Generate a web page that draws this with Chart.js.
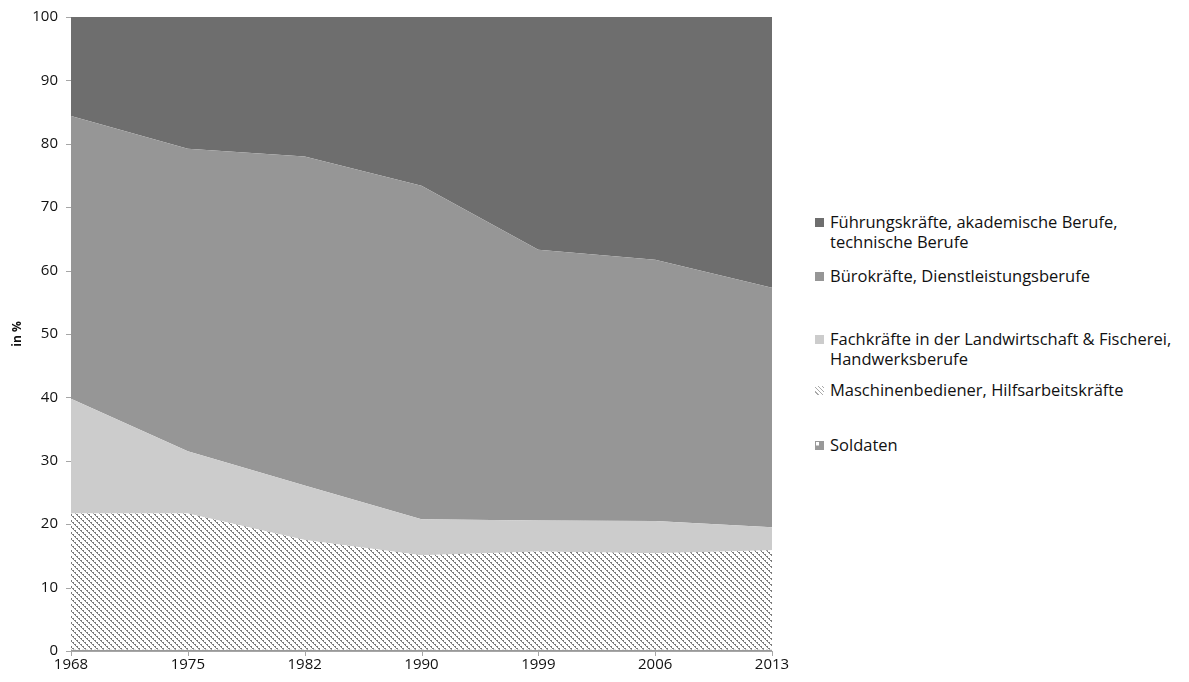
<!DOCTYPE html>
<html lang="de">
<head>
<meta charset="UTF-8">
<title>Berufsgruppen</title>
<script src="https://cdn.jsdelivr.net/npm/chart.js"></script>
<style>
    body { margin: 0; background: #fff; font-family: "Open Sans", sans-serif; }
    #wrap { position: relative; width: 1189px; height: 682px; }
    #chartBox { position: absolute; left: 0; top: 0; width: 800px; height: 682px; }
    #legend { position: absolute; left: 815px; top: 0; width: 374px; font-size: 16.5px; color: #111; }
    .item { position: absolute; left: 0; display: flex; align-items: flex-start; line-height: 20px; white-space: nowrap; }
    .box { width: 9px; height: 9px; margin: 6px 6px 0 0; flex: none; }
</style>
</head>
<body>
<div id="wrap">
    <div id="chartBox"><canvas id="chart"></canvas></div>
    <div id="legend"></div>
</div>
<script>
const years = ["1968", "1975", "1982", "1990", "1999", "2006", "2013"];

// Anteile in %, von unten nach oben gestapelt
const soldaten     = [0.2, 0.2, 0.2, 0.2, 0.2, 0.2, 0.2];
const maschinen    = [21.5, 21.5, 17.3, 14.9, 15.5, 15.2, 15.7];
const fachkraefte  = [18.1, 9.8, 8.6, 5.7, 4.9, 5.1, 3.6];
const buerokraefte = [44.6, 47.7, 51.9, 52.6, 42.7, 41.2, 37.8];
const fuehrung     = [15.6, 20.8, 22.0, 26.6, 36.7, 38.3, 42.7];

const yTicks = [0, 10, 20, 30, 40, 50, 60, 70, 80, 90, 100];

// schraffur für maschinenbediener
function hatch() {
    const c = document.createElement("canvas");
    c.width = 6; c.height = 6;
    const g = c.getContext("2d");
    g.fillStyle = "#fff";
    g.fillRect(0, 0, 6, 6);
    g.fillStyle = "#7d7d7d";
    for (let y = 0; y < 6; y++) {
        g.fillRect(y, y, 1, 1);
        if (y % 2 == 0) g.fillRect((y + 1) % 6, y, 1, 1);
    }
    return g.createPattern(c, "repeat");
}

function soldPattern() {
    const c = document.createElement("canvas");
    c.width = 4; c.height = 4;
    const g = c.getContext("2d");
    g.fillStyle = "#999";
    g.fillRect(0, 0, 4, 4);
    g.fillStyle = "#fff";
    g.fillRect(0, 0, 2, 2);
    return g.createPattern(c, "repeat");
}

const hatchFill = hatch();

const datasets = [
    { label: "Soldaten", data: soldaten, backgroundColor: soldPattern(), fill: "origin" },
    { label: "Maschinenbediener, Hilfsarbeitskräfte", data: maschinen, backgroundColor: hatchFill, fill: "-1" },
    { label: "Fachkräfte in der Landwirtschaft & Fischerei, Handwerksberufe", data: fachkraefte, backgroundColor: "#cccccc", fill: "-1" },
    { label: "Bürokräfte, Dienstleistungsberufe", data: buerokraefte, backgroundColor: "#969696", fill: "-1" },
    { label: "Führungskräfte, akademische Berufe, technische Berufe", data: fuehrung, backgroundColor: "#6e6e6e", fill: "-1" }
];
datasets.forEach(d => { d.borderWidth = 0; d.pointRadius = 0; d.tension = 0; });

new Chart(document.getElementById("chart"), {
    type: "line",
    data: { labels: years, datasets: datasets },
    options: {
        responsive: true,
        maintainAspectRatio: false,
        animation: false,
        layout: { padding: { top: 16, right: 28, left: 10, bottom: 0 } },
        plugins: { legend: { display: false }, tooltip: { enabled: false } },
        scales: {
            x: {
                offset: false,
                grid: { display: false, drawTicks: true, tickLength: 5, color: "#a6a6a6" },
                border: { color: "#a6a6a6", width: 1 },
                ticks: { color: "#111", font: { family: "Open Sans", size: 15 }, padding: 0, maxRotation: 0 },
                afterFit: s => { s.height = 31; }
            },
            y: {
                stacked: true,
                min: 0, max: 100,
                afterBuildTicks: s => { s.ticks = yTicks.map(v => ({ value: v })); },
                grid: { display: false, tickLength: 5, color: "#a6a6a6" },
                border: { color: "#a6a6a6", width: 1 },
                ticks: { color: "#111", font: { family: "Open Sans", size: 15 }, padding: 8 },
                title: { display: true, text: "in %", color: "#111", font: { family: "Open Sans", size: 12, weight: "bold" }, padding: 0 },
                afterFit: s => { s.width = 61; }
            }
        }
    },
    plugins: [{
        // tick-striche ohne gitterlinien
        id: "tickMarks",
        afterDraw(chart) {
            const ctx = chart.ctx, a = chart.chartArea;
            ctx.save();
            ctx.strokeStyle = "#a6a6a6";
            ctx.lineWidth = 1;
            ctx.beginPath();
            chart.scales.y.ticks.forEach(t => {
                const y = Math.round(chart.scales.y.getPixelForValue(t.value)) + 0.5;
                ctx.moveTo(a.left - 5, y); ctx.lineTo(a.left, y);
            });
            chart.scales.x.ticks.forEach((t, i) => {
                const x = Math.round(chart.scales.x.getPixelForValue(i)) + 0.5;
                ctx.moveTo(x, a.bottom); ctx.lineTo(x, a.bottom + 5);
            });
            ctx.stroke();
            ctx.restore();
        }
    }]
});

// legende rechts, reihenfolge wie im original
const legendItems = [
    { text: "Führungskräfte, akademische Berufe,<br>technische Berufe", fill: "#6e6e6e", top: 212 },
    { text: "Bürokräfte, Dienstleistungsberufe", fill: "#969696", top: 266 },
    { text: "Fachkräfte in der Landwirtschaft &amp; Fischerei,<br>Handwerksberufe", fill: "#cccccc", top: 329 },
    { text: "Maschinenbediener, Hilfsarbeitskräfte", fill: "hatch", top: 380 },
    { text: "Soldaten", fill: "sold", top: 435 }
];
const legend = document.getElementById("legend");
legendItems.forEach(it => {
    const div = document.createElement("div");
    div.className = "item";
    div.style.top = it.top + "px";
    let style = "background:" + it.fill;
    if (it.fill == "hatch") style = "background: repeating-linear-gradient(45deg, #fff 0 2px, #aaa 2px 3px)";
    if (it.fill == "sold") style = "background: linear-gradient(to right, #fff 50%, #999 50%) top/100% 50% no-repeat, #999; outline: 1px solid #999; outline-offset: -1px";
    div.innerHTML = '<span class="box" style="' + style + '"></span><span>' + it.text + '</span>';
    legend.appendChild(div);
});
</script>
</body>
</html>
